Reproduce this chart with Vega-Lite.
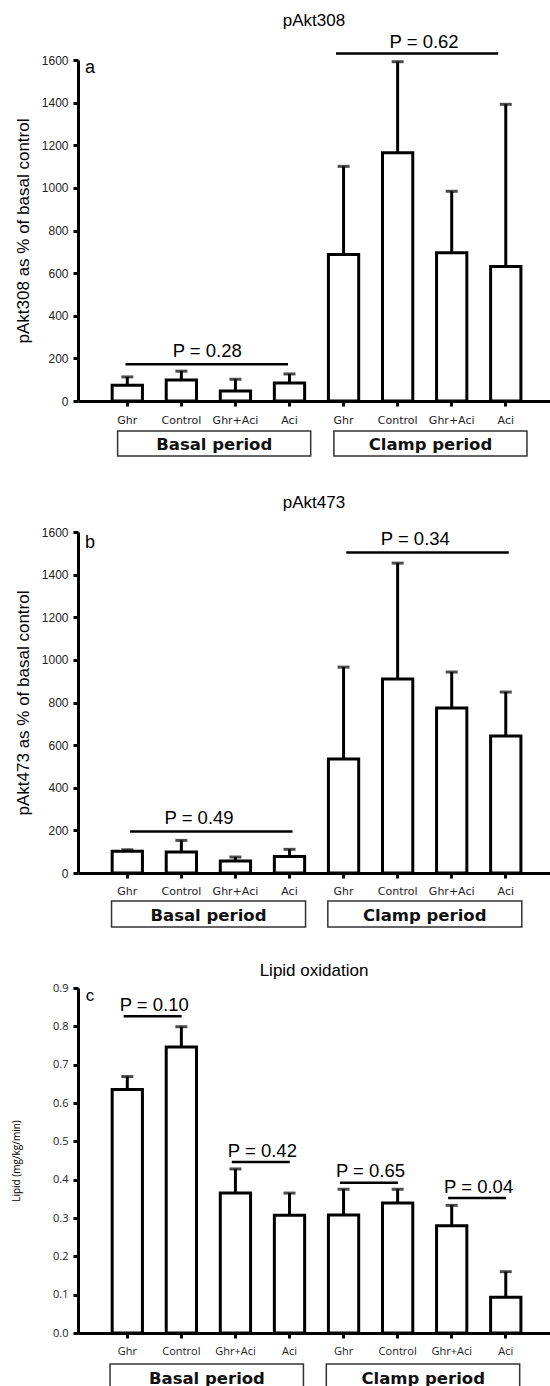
{
  "$schema": "https://vega.github.io/schema/vega-lite/v6.json",
  "padding": {"left": 11, "top": 11, "right": 0, "bottom": 0},
  "spacing": 115,
  "bounds": "flush",
  "config": {
    "view": {"stroke": null},
    "font": "Liberation Sans",
    "axis": {"domainColor": "black", "domainWidth": 3, "tickColor": "black", "tickWidth": 3, "tickSize": 5, "grid": false, "labelColor": "#222", "titleColor": "black", "titleFontWeight": "normal"},
    "title": {"font": "Liberation Sans", "fontSize": 17, "fontWeight": "normal", "color": "black", "anchor": "middle"}
  },
  "vconcat": [
    {
      "width": 472, "height": 341,
      "title": {"text": "pAkt308", "offset": 3},
      "layer": [
        {
          "data": {"values": [
            {"key": "Basal|Ghr", "value": 74, "err": 113},
            {"key": "Basal|Control", "value": 99, "err": 140},
            {"key": "Basal|Ghr+Aci", "value": 47, "err": 102},
            {"key": "Basal|Aci", "value": 85, "err": 127},
            {"key": "Clamp|Ghr", "value": 687, "err": 1101},
            {"key": "Clamp|Control", "value": 1165, "err": 1592},
            {"key": "Clamp|Ghr+Aci", "value": 696, "err": 984},
            {"key": "Clamp|Aci", "value": 631, "err": 1392}
          ]},
          "layer": [
            {"mark": {"type": "rule", "strokeWidth": 3, "color": "black"},
             "encoding": {
               "x": {"field": "key", "type": "nominal", "title": null,
                     "scale": {"domain": ["Basal|Ghr","Basal|Control","Basal|Ghr+Aci","Basal|Aci","Clamp|Ghr","Clamp|Control","Clamp|Ghr+Aci","Clamp|Aci"], "paddingInner": 0.44, "paddingOuter": 0.585, "align": 0.54},
                     "axis": {"labelExpr": "split(datum.label, '|')[1]", "labelAngle": 0, "labelFont": "DejaVu Sans", "labelFontSize": 11, "labelPadding": 8, "labelColor": "#222"}},
               "y": {"field": "value", "type": "quantitative", "title": "pAkt308 as % of basal control",
                     "scale": {"domain": [0, 1600], "nice": false},
                     "axis": {"values": [0,200,400,600,800,1000,1200,1400,1600], "format": "d", "labelFontSize": 12, "labelPadding": 5, "titleFontSize": 17, "titlePadding": 9}},
               "y2": {"field": "err"}}},
            {"mark": {"type": "bar", "fill": "white", "stroke": "black", "strokeWidth": 3, "strokeJoin": "miter"},
             "encoding": {"x": {"field": "key", "type": "nominal", "title": null}, "y": {"field": "value", "type": "quantitative", "title": "pAkt308 as % of basal control", "axis": {"values": [0,200,400,600,800,1000,1200,1400,1600], "format": "d", "labelFontSize": 12, "labelPadding": 5, "titleFontSize": 17, "titlePadding": 9}}}},
            {"mark": {"type": "tick", "orient": "horizontal", "size": 12, "thickness": 3, "color": "black"},
             "encoding": {"x": {"field": "key", "type": "nominal", "title": null}, "y": {"field": "err", "type": "quantitative", "title": "pAkt308 as % of basal control", "axis": {"values": [0,200,400,600,800,1000,1200,1400,1600], "format": "d", "labelFontSize": 12, "labelPadding": 5, "titleFontSize": 17, "titlePadding": 9}}}}
          ]
        },
        {
          "data": {"values": [{"p": "P = 0.28", "from": "Basal|Ghr", "to": "Basal|Aci", "level": 173}]},
          "layer": [
            {"mark": {"type": "rule", "strokeWidth": 2.5, "color": "black"},
             "encoding": {"x": {"field": "from", "type": "nominal", "bandPosition": 0.44, "title": null}, "x2": {"field": "to", "bandPosition": 0.45}, "y": {"field": "level", "type": "quantitative", "title": "pAkt308 as % of basal control", "axis": {"values": [0,200,400,600,800,1000,1200,1400,1600], "format": "d", "labelFontSize": 12, "labelPadding": 5, "titleFontSize": 17, "titlePadding": 9}}}},
            {"mark": {"type": "text", "fontSize": 18.5, "dy": -13, "baseline": "middle", "color": "black"},
             "encoding": {"x": {"field": "from", "type": "nominal", "bandPosition": 3.14, "title": null}, "y": {"field": "level", "type": "quantitative", "title": "pAkt308 as % of basal control", "axis": {"values": [0,200,400,600,800,1000,1200,1400,1600], "format": "d", "labelFontSize": 12, "labelPadding": 5, "titleFontSize": 17, "titlePadding": 9}}, "text": {"field": "p"}}}
          ]
        },
        {
          "data": {"values": [{"p": "P = 0.62", "from": "Clamp|Ghr", "to": "Clamp|Aci", "level": 1630}]},
          "layer": [
            {"mark": {"type": "rule", "strokeWidth": 2.5, "color": "black"},
             "encoding": {"x": {"field": "from", "type": "nominal", "bandPosition": 0.25, "title": null}, "x2": {"field": "to", "bandPosition": 0.25}, "y": {"field": "level", "type": "quantitative", "title": "pAkt308 as % of basal control", "axis": {"values": [0,200,400,600,800,1000,1200,1400,1600], "format": "d", "labelFontSize": 12, "labelPadding": 5, "titleFontSize": 17, "titlePadding": 9}}}},
            {"mark": {"type": "text", "fontSize": 18.5, "dy": -12, "baseline": "middle", "color": "black"},
             "encoding": {"x": {"field": "from", "type": "nominal", "bandPosition": 3.16, "title": null}, "y": {"field": "level", "type": "quantitative", "title": "pAkt308 as % of basal control", "axis": {"values": [0,200,400,600,800,1000,1200,1400,1600], "format": "d", "labelFontSize": 12, "labelPadding": 5, "titleFontSize": 17, "titlePadding": 9}}, "text": {"field": "p"}}}
          ]
        },
        {
          "data": {"values": [
            {"period": "Basal period", "from": "Basal|Ghr", "to": "Basal|Aci"},
            {"period": "Clamp period", "from": "Clamp|Ghr", "to": "Clamp|Aci"}
          ]},
          "layer": [
            {"mark": {"type": "rect", "fill": null, "stroke": "#333", "strokeWidth": 1.5},
             "encoding": {"x": {"field": "from", "type": "nominal", "bandPosition": 0.18, "title": null}, "x2": {"field": "to", "bandPosition": 1.2}, "y": {"datum": -141, "type": "quantitative", "title": "pAkt308 as % of basal control", "axis": {"values": [0,200,400,600,800,1000,1200,1400,1600], "format": "d", "labelFontSize": 12, "labelPadding": 5, "titleFontSize": 17, "titlePadding": 9}}, "y2": {"datum": -258}}},
            {"mark": {"type": "text", "font": "DejaVu Sans", "fontWeight": "bold", "fontSize": 16.5, "baseline": "middle", "color": "#111"},
             "encoding": {"x": {"field": "from", "type": "nominal", "bandPosition": 3.37, "title": null}, "y": {"datum": -206, "type": "quantitative", "title": "pAkt308 as % of basal control", "axis": {"values": [0,200,400,600,800,1000,1200,1400,1600], "format": "d", "labelFontSize": 12, "labelPadding": 5, "titleFontSize": 17, "titlePadding": 9}}, "text": {"field": "period"}}}
          ]
        },
        {
          "data": {"values": [{"letter": "a", "at": "Basal|Ghr"}]},
          "mark": {"type": "text", "fontSize": 18, "baseline": "middle", "color": "black"},
          "encoding": {"x": {"field": "at", "type": "nominal", "bandPosition": -0.73, "title": null}, "y": {"datum": 1563, "type": "quantitative", "title": "pAkt308 as % of basal control", "axis": {"values": [0,200,400,600,800,1000,1200,1400,1600], "format": "d", "labelFontSize": 12, "labelPadding": 5, "titleFontSize": 17, "titlePadding": 9}}, "text": {"field": "letter"}}
        }
      ]
    },
    {
      "width": 472, "height": 357,
      "title": {"text": "pAkt473", "offset": 4},
      "layer": [
        {
          "data": {"values": [
            {"key": "Basal|Ghr", "value": 102, "err": 109},
            {"key": "Basal|Control", "value": 98, "err": 153},
            {"key": "Basal|Ghr+Aci", "value": 56, "err": 75},
            {"key": "Basal|Aci", "value": 78, "err": 111},
            {"key": "Clamp|Ghr", "value": 535, "err": 966},
            {"key": "Clamp|Control", "value": 910, "err": 1454},
            {"key": "Clamp|Ghr+Aci", "value": 774, "err": 943},
            {"key": "Clamp|Aci", "value": 643, "err": 849}
          ]},
          "layer": [
            {"mark": {"type": "rule", "strokeWidth": 3, "color": "black"},
             "encoding": {
               "x": {"field": "key", "type": "nominal", "title": null,
                     "scale": {"domain": ["Basal|Ghr","Basal|Control","Basal|Ghr+Aci","Basal|Aci","Clamp|Ghr","Clamp|Control","Clamp|Ghr+Aci","Clamp|Aci"], "paddingInner": 0.44, "paddingOuter": 0.585, "align": 0.54},
                     "axis": {"labelExpr": "split(datum.label, '|')[1]", "labelAngle": 0, "labelFont": "DejaVu Sans", "labelFontSize": 11, "labelPadding": 7, "labelColor": "#222"}},
               "y": {"field": "value", "type": "quantitative", "title": "pAkt473 as % of basal control",
                     "scale": {"domain": [0, 1600], "nice": false, "range": [357, 16]},
                     "axis": {"values": [0,200,400,600,800,1000,1200,1400,1600], "format": "d", "labelFontSize": 12, "labelPadding": 5, "titleFontSize": 17, "titlePadding": 9}},
               "y2": {"field": "err"}}},
            {"mark": {"type": "bar", "fill": "white", "stroke": "black", "strokeWidth": 3, "strokeJoin": "miter"},
             "encoding": {"x": {"field": "key", "type": "nominal", "title": null}, "y": {"field": "value", "type": "quantitative", "title": "pAkt473 as % of basal control", "axis": {"values": [0,200,400,600,800,1000,1200,1400,1600], "format": "d", "labelFontSize": 12, "labelPadding": 5, "titleFontSize": 17, "titlePadding": 9}}}},
            {"mark": {"type": "tick", "orient": "horizontal", "size": 12, "thickness": 3, "color": "black"},
             "encoding": {"x": {"field": "key", "type": "nominal", "title": null}, "y": {"field": "err", "type": "quantitative", "title": "pAkt473 as % of basal control", "axis": {"values": [0,200,400,600,800,1000,1200,1400,1600], "format": "d", "labelFontSize": 12, "labelPadding": 5, "titleFontSize": 17, "titlePadding": 9}}}}
          ]
        },
        {
          "data": {"values": [
            {"p": "P = 0.49", "from": "Basal|Ghr", "to": "Basal|Aci", "level": 195},
            {"p": "P = 0.34", "from": "Clamp|Ghr", "to": "Clamp|Aci", "level": 1504}
          ]},
          "layer": [
            {"mark": {"type": "rule", "strokeWidth": 2.5, "color": "black"},
             "encoding": {"x": {"field": "from", "type": "nominal", "bandPosition": 0.59, "title": null}, "x2": {"field": "to", "bandPosition": 0.6}, "y": {"field": "level", "type": "quantitative", "title": "pAkt473 as % of basal control", "axis": {"values": [0,200,400,600,800,1000,1200,1400,1600], "format": "d", "labelFontSize": 12, "labelPadding": 5, "titleFontSize": 17, "titlePadding": 9}}}},
            {"mark": {"type": "text", "fontSize": 18.5, "dy": -13, "baseline": "middle", "color": "black"},
             "encoding": {"x": {"field": "from", "type": "nominal", "bandPosition": 2.87, "title": null}, "y": {"field": "level", "type": "quantitative", "title": "pAkt473 as % of basal control", "axis": {"values": [0,200,400,600,800,1000,1200,1400,1600], "format": "d", "labelFontSize": 12, "labelPadding": 5, "titleFontSize": 17, "titlePadding": 9}}, "text": {"field": "p"}}}
          ]
        },
        {
          "data": {"values": [
            {"period": "Basal period", "from": "Basal|Ghr", "to": "Basal|Aci"},
            {"period": "Clamp period", "from": "Clamp|Ghr", "to": "Clamp|Aci"}
          ]},
          "layer": [
            {"mark": {"type": "rect", "fill": null, "stroke": "#333", "strokeWidth": 1.5},
             "encoding": {"x": {"field": "from", "type": "nominal", "bandPosition": -0.02, "title": null}, "x2": {"field": "to", "bandPosition": 1.03}, "y": {"datum": -131, "type": "quantitative", "title": "pAkt473 as % of basal control", "axis": {"values": [0,200,400,600,800,1000,1200,1400,1600], "format": "d", "labelFontSize": 12, "labelPadding": 5, "titleFontSize": 17, "titlePadding": 9}}, "y2": {"datum": -253}}},
            {"mark": {"type": "text", "font": "DejaVu Sans", "fontWeight": "bold", "fontSize": 16.5, "baseline": "middle", "color": "#111"},
             "encoding": {"x": {"field": "from", "type": "nominal", "bandPosition": 3.18, "title": null}, "y": {"datum": -202, "type": "quantitative", "title": "pAkt473 as % of basal control", "axis": {"values": [0,200,400,600,800,1000,1200,1400,1600], "format": "d", "labelFontSize": 12, "labelPadding": 5, "titleFontSize": 17, "titlePadding": 9}}, "text": {"field": "period"}}}
          ]
        },
        {
          "data": {"values": [{"letter": "b", "at": "Basal|Ghr"}]},
          "mark": {"type": "text", "fontSize": 18, "baseline": "middle", "color": "black"},
          "encoding": {"x": {"field": "at", "type": "nominal", "bandPosition": -0.73, "title": null}, "y": {"datum": 1548, "type": "quantitative", "title": "pAkt473 as % of basal control", "axis": {"values": [0,200,400,600,800,1000,1200,1400,1600], "format": "d", "labelFontSize": 12, "labelPadding": 5, "titleFontSize": 17, "titlePadding": 9}}, "text": {"field": "letter"}}
        }
      ]
    },
    {
      "width": 472, "height": 345,
      "title": {"text": "Lipid oxidation", "offset": 2},
      "layer": [
        {
          "data": {"values": [
            {"key": "Basal|Ghr", "value": 0.635, "err": 0.669},
            {"key": "Basal|Control", "value": 0.746, "err": 0.799},
            {"key": "Basal|Ghr+Aci", "value": 0.365, "err": 0.428},
            {"key": "Basal|Aci", "value": 0.307, "err": 0.365},
            {"key": "Clamp|Ghr", "value": 0.308, "err": 0.375},
            {"key": "Clamp|Control", "value": 0.339, "err": 0.375},
            {"key": "Clamp|Ghr+Aci", "value": 0.28, "err": 0.333},
            {"key": "Clamp|Aci", "value": 0.093, "err": 0.16}
          ]},
          "layer": [
            {"mark": {"type": "rule", "strokeWidth": 3, "color": "black"},
             "encoding": {
               "x": {"field": "key", "type": "nominal", "title": null,
                     "scale": {"domain": ["Basal|Ghr","Basal|Control","Basal|Ghr+Aci","Basal|Aci","Clamp|Ghr","Clamp|Control","Clamp|Ghr+Aci","Clamp|Aci"], "paddingInner": 0.44, "paddingOuter": 0.585, "align": 0.54},
                     "axis": {"labelExpr": "split(datum.label, '|')[1]", "labelAngle": 0, "labelFont": "Open Sans", "labelFontSize": 11, "labelPadding": 7, "labelColor": "#222"}},
               "y": {"field": "value", "type": "quantitative", "title": "Lipid (mg/kg/min)",
                     "scale": {"domain": [0, 0.9], "nice": false},
                     "axis": {"values": [0,0.1,0.2,0.3,0.4,0.5,0.6,0.7,0.8,0.9], "format": ".1f", "labelFont": "Open Sans", "labelFontSize": 11, "labelPadding": 5, "titleFont": "Open Sans", "titleFontSize": 10, "titlePadding": 31}},
               "y2": {"field": "err"}}},
            {"mark": {"type": "bar", "fill": "white", "stroke": "black", "strokeWidth": 3, "strokeJoin": "miter"},
             "encoding": {"x": {"field": "key", "type": "nominal", "title": null}, "y": {"field": "value", "type": "quantitative", "title": "Lipid (mg/kg/min)", "axis": {"values": [0,0.1,0.2,0.3,0.4,0.5,0.6,0.7,0.8,0.9], "format": ".1f", "labelFont": "Open Sans", "labelFontSize": 11, "labelPadding": 5, "titleFont": "Open Sans", "titleFontSize": 10, "titlePadding": 31}}}},
            {"mark": {"type": "tick", "orient": "horizontal", "size": 12, "thickness": 3, "color": "black"},
             "encoding": {"x": {"field": "key", "type": "nominal", "title": null}, "y": {"field": "err", "type": "quantitative", "title": "Lipid (mg/kg/min)", "axis": {"values": [0,0.1,0.2,0.3,0.4,0.5,0.6,0.7,0.8,0.9], "format": ".1f", "labelFont": "Open Sans", "labelFontSize": 11, "labelPadding": 5, "titleFont": "Open Sans", "titleFontSize": 10, "titlePadding": 31}}}}
          ]
        },
        {
          "data": {"values": [
            {"p": "P = 0.10", "from": "Basal|Ghr", "to": "Basal|Control", "level": 0.826},
            {"p": "P = 0.42", "from": "Basal|Ghr+Aci", "to": "Basal|Aci", "level": 0.446},
            {"p": "P = 0.65", "from": "Clamp|Ghr", "to": "Clamp|Control", "level": 0.392},
            {"p": "P = 0.04", "from": "Clamp|Ghr+Aci", "to": "Clamp|Aci", "level": 0.352}
          ]},
          "layer": [
            {"mark": {"type": "rule", "strokeWidth": 2.5, "color": "black"},
             "encoding": {"x": {"field": "from", "type": "nominal", "bandPosition": 0.38, "title": null}, "x2": {"field": "to", "bandPosition": 0.51}, "y": {"field": "level", "type": "quantitative", "title": "Lipid (mg/kg/min)", "axis": {"values": [0,0.1,0.2,0.3,0.4,0.5,0.6,0.7,0.8,0.9], "format": ".1f", "labelFont": "Open Sans", "labelFontSize": 11, "labelPadding": 5, "titleFont": "Open Sans", "titleFontSize": 10, "titlePadding": 31}}}},
            {"mark": {"type": "text", "fontSize": 18.5, "dy": -11.5, "baseline": "middle", "color": "black"},
             "encoding": {"x": {"field": "from", "type": "nominal", "bandPosition": 1.39, "title": null}, "y": {"field": "level", "type": "quantitative", "title": "Lipid (mg/kg/min)", "axis": {"values": [0,0.1,0.2,0.3,0.4,0.5,0.6,0.7,0.8,0.9], "format": ".1f", "labelFont": "Open Sans", "labelFontSize": 11, "labelPadding": 5, "titleFont": "Open Sans", "titleFontSize": 10, "titlePadding": 31}}, "text": {"field": "p"}}}
          ]
        },
        {
          "data": {"values": [
            {"period": "Basal period", "from": "Basal|Ghr", "to": "Basal|Aci"},
            {"period": "Clamp period", "from": "Clamp|Ghr", "to": "Clamp|Aci"}
          ]},
          "layer": [
            {"mark": {"type": "rect", "fill": null, "stroke": "#333", "strokeWidth": 1.5},
             "encoding": {"x": {"field": "from", "type": "nominal", "bandPosition": -0.07, "title": null}, "x2": {"field": "to", "bandPosition": 0.96}, "y": {"datum": -0.081, "type": "quantitative", "title": "Lipid (mg/kg/min)", "axis": {"values": [0,0.1,0.2,0.3,0.4,0.5,0.6,0.7,0.8,0.9], "format": ".1f", "labelFont": "Open Sans", "labelFontSize": 11, "labelPadding": 5, "titleFont": "Open Sans", "titleFontSize": 10, "titlePadding": 31}}, "y2": {"datum": -0.146}}},
            {"mark": {"type": "text", "font": "DejaVu Sans", "fontWeight": "bold", "fontSize": 16.5, "baseline": "middle", "color": "#111"},
             "encoding": {"x": {"field": "from", "type": "nominal", "bandPosition": 3.13, "title": null}, "y": {"datum": -0.12, "type": "quantitative", "title": "Lipid (mg/kg/min)", "axis": {"values": [0,0.1,0.2,0.3,0.4,0.5,0.6,0.7,0.8,0.9], "format": ".1f", "labelFont": "Open Sans", "labelFontSize": 11, "labelPadding": 5, "titleFont": "Open Sans", "titleFontSize": 10, "titlePadding": 31}}, "text": {"field": "period"}}}
          ]
        },
        {
          "data": {"values": [{"letter": "c", "at": "Basal|Ghr"}]},
          "mark": {"type": "text", "fontSize": 17, "baseline": "middle", "color": "black"},
          "encoding": {"x": {"field": "at", "type": "nominal", "bandPosition": -0.73, "title": null}, "y": {"datum": 0.88, "type": "quantitative", "title": "Lipid (mg/kg/min)", "axis": {"values": [0,0.1,0.2,0.3,0.4,0.5,0.6,0.7,0.8,0.9], "format": ".1f", "labelFont": "Open Sans", "labelFontSize": 11, "labelPadding": 5, "titleFont": "Open Sans", "titleFontSize": 10, "titlePadding": 31}}, "text": {"field": "letter"}}
        }
      ]
    }
  ]
}
